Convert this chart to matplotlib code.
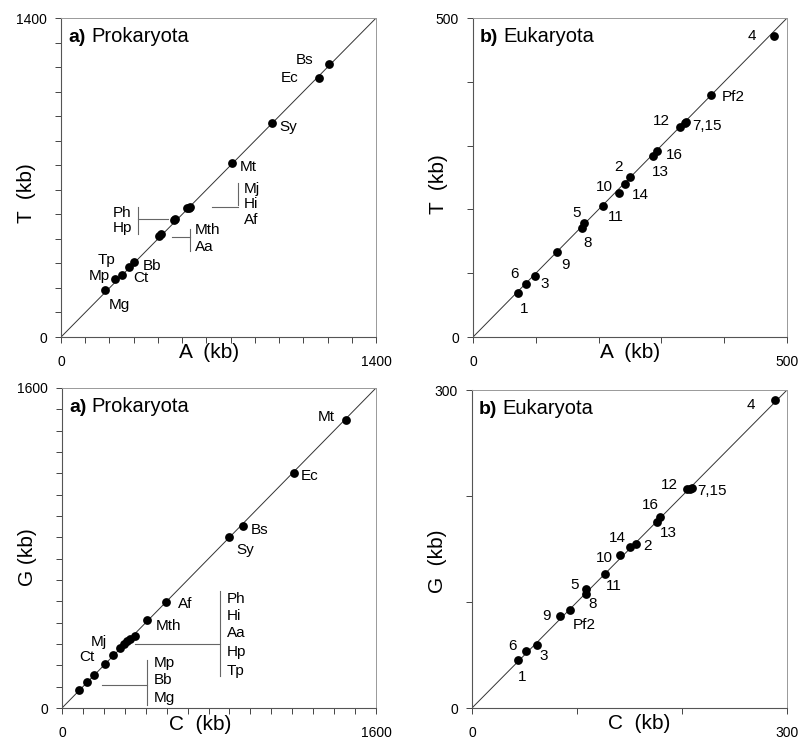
import numpy as np
import matplotlib.pyplot as plt

plt.rcParams['font.family'] = ['Liberation Sans', 'DejaVu Sans']

# a) Prokaryota: A vs T (kb)
pro_at_names = ['Mg', 'Mp', 'Tp', 'Ct', 'Bb', 'Aa', 'Mth', 'Ph', 'Hp',
                'Af', 'Hi', 'Mj', 'Mt', 'Sy', 'Ec', 'Bs']
pro_a = [197, 240, 270, 304, 326, 437, 443, 501, 505, 559, 567, 574, 759, 937, 1148, 1189]
pro_t = [205, 254, 274, 308, 330, 442, 450, 515, 519, 565, 567, 570, 762, 938, 1139, 1198]

# a) Prokaryota: C vs G (kb)
pro_cg_names = ['Mg', 'Bb', 'Mp', 'Ct', 'Mj', 'Tp', 'Hp', 'Hi', 'Ph', 'Aa',
                'Mth', 'Af', 'Sy', 'Bs', 'Ec', 'Mt']
pro_c = [87, 127, 161, 217, 258, 297, 318, 331, 348, 374, 435, 532, 849, 922, 1180, 1449]
pro_g = [88, 130, 163, 218, 267, 300, 322, 333, 347, 358, 438, 528, 853, 912, 1175, 1442]

# b) Eukaryota (chromosomes 1-16 and Pf2)
euk_names = ['1', '2', '3', '4', '5', '6', '7', '8', '9', '10', '11', '12',
             '13', '14', '15', '16', 'Pf2']
euk_a = [71.1, 250.5, 98.7, 479.9, 177.3, 83.9, 337.5, 174.1, 133.2, 233.0,
         207.0, 329.1, 286.1, 242.6, 339.5, 293.0, 379.6]
euk_t = [69.6, 251.3, 95.3, 471.2, 178.5, 82.7, 335.5, 170.2, 132.5, 226.2,
         205.8, 329.8, 283.8, 239.3, 336.8, 292.1, 379.6]
euk_c = [43.8, 156.5, 61.6, 288.6, 108.6, 51.4, 208.0, 108.6, 84.1, 141.3,
         126.7, 204.8, 175.9, 150.5, 209.2, 179.4, 93.0]
euk_g = [45.5, 154.6, 59.7, 290.6, 112.5, 53.4, 207.0, 107.7, 86.4, 144.2,
         126.3, 206.4, 175.9, 152.0, 207.6, 180.6, 92.7]

# label placement (data coords)
lab_pro_at = {'Bs': (1081, 1214), 'Ec': (1016, 1139), 'Sy': (1011, 924),
              'Mt': (833, 748), 'Tp': (203, 340), 'Mp': (170, 270),
              'Bb': (403, 312), 'Ct': (354, 258), 'Mg': (260, 139)}
grp_pro_at = [
    dict(names=['Mj', 'Hi', 'Af'], tx=812, ty=[650, 585, 515], ha='left',
         vx=785, vy=(677, 579), hx=(670, 785), hy=569),
    dict(names=['Ph', 'Hp'], tx=314, ty=[545, 479], ha='right',
         vx=341, vy=(572, 454), hx=(341, 477), hy=517),
    dict(names=['Mth', 'Aa'], tx=596, ty=[469, 393], ha='left',
         vx=571, vy=(476, 378), hx=(492, 571), hy=440),
]
lab_pro_cg = {'Mt': (1347, 1455), 'Ec': (1262, 1162), 'Bs': (1007, 888),
              'Sy': (934, 792), 'Af': (628, 520), 'Mth': (543, 408),
              'Mj': (187, 328), 'Ct': (127, 255)}
grp_pro_cg = [
    dict(names=['Mp', 'Bb', 'Mg'], tx=467, ty=[225, 142, 50], ha='left',
         vx=433, vy=(242, 17), hx=(204, 433), hy=117),
    dict(names=['Ph', 'Hi', 'Aa', 'Hp', 'Tp'], tx=841, ty=[545, 458, 375, 278, 183],
         ha='left', vx=807, vy=(583, 162), hx=(374, 807), hy=322),
]
lab_euk_at = {'4': (444, 472), 'Pf2': (414, 376), '12': (300, 339), '16': (320.6, 286),
              '13': (298, 259), '2': (232, 267), '10': (209, 235.6), '14': (266, 222.5),
              '5': (165.6, 194.8), '11': (228, 187.4), '8': (182.6, 147.6),
              '9': (147, 113.6), '6': (66.3, 98.4), '3': (113.6, 83.8), '1': (80.7, 43.5)}
lab_euk_at_left = {'7,15': (349, 331)}
lab_euk_cg = {'4': (265.7, 285.9), '12': (188.3, 210.5), '16': (169.8, 191.6),
              '13': (187.3, 164.9), '14': (138.7, 160.2), '2': (166.7, 153.3),
              '10': (126.0, 141.4), '11': (134.9, 115.3), '5': (97.5, 116.2),
              '8': (115.2, 98.0), '9': (70.5, 87.0), 'Pf2': (107.0, 78.5),
              '6': (39.0, 58.1), '3': (68.3, 48.7), '1': (47.6, 29.2)}
lab_euk_cg_left = {'7,15': (214.3, 205.1)}

fig = plt.figure(figsize=(8.02, 7.43), dpi=100)


def panel(rect, x, y, vmax, nt, letter, title, xl, yl, xlpos, ylpos,
          labels, left_labels={}, groups=[]):
    ax = fig.add_axes(rect)
    ax.set_xlim(0, vmax)
    ax.set_ylim(0, vmax)
    ax.plot([0, vmax], [0, vmax], color='#333333', lw=0.7, zorder=1)
    ax.scatter(x, y, s=40, color='black', zorder=3, linewidths=0)
    ticks = np.linspace(0, vmax, nt + 1)
    tl = [''] * len(ticks)
    tl[0], tl[-1] = '0', str(vmax)
    ax.set_xticks(ticks, tl)
    ax.set_yticks(ticks, tl)
    ax.tick_params(axis='x', direction='out', length=4, width=0.7, pad=9,
                   labelsize=10, colors='#444444', labelcolor='black')
    ax.tick_params(axis='y', direction='out', length=4, width=0.7, pad=6,
                   labelsize=10, colors='#444444', labelcolor='black')
    for s in ['top', 'right']:
        ax.spines[s].set_color('#999999')
        ax.spines[s].set_linewidth(0.7)
    for s in ['left', 'bottom']:
        ax.spines[s].set_color('#555555')
        ax.spines[s].set_linewidth(0.8)
    t1 = ax.text(0.022, 0.94, letter, transform=ax.transAxes, fontsize=14,
                 fontweight='bold', va='center', ha='left')
    ax.annotate(title, xy=(1, 0), xycoords=t1, xytext=(4, 0),
                textcoords='offset points', fontsize=14.5, va='bottom', ha='left')
    ax.text(xlpos, -0.05, xl, transform=ax.transAxes, fontsize=15,
            ha='center', va='center')
    ax.text(-0.11, ylpos, yl, transform=ax.transAxes, fontsize=15,
            ha='center', va='center', rotation=90)
    for name, (tx, ty) in labels.items():
        ax.text(tx, ty, name, fontsize=11, ha='center', va='center')
    for name, (tx, ty) in left_labels.items():
        ax.text(tx, ty, name, fontsize=11, ha='left', va='center')
    for g in groups:
        for name, ty in zip(g['names'], g['ty']):
            ax.text(g['tx'], ty, name, fontsize=11, ha=g['ha'], va='center')
        ax.plot([g['vx'], g['vx']], g['vy'], color='#666666', lw=0.8)
        ax.plot(g['hx'], [g['hy'], g['hy']], color='#666666', lw=0.8)
    return ax


panel([0.0761, 0.5464, 0.3928, 0.4293], pro_a, pro_t, 1400, 13, 'a)', 'Prokaryota',
      'A  (kb)', 'T  (kb)', 0.47, 0.45, lab_pro_at, groups=grp_pro_at)
panel([0.5898, 0.5464, 0.3915, 0.4293], euk_a, euk_t, 500, 5, 'b)', 'Eukaryota',
      'A  (kb)', 'T  (kb)', 0.50, 0.48, lab_euk_at, lab_euk_at_left)
panel([0.0773, 0.0471, 0.3915, 0.4307], pro_c, pro_g, 1600, 15, 'a)', 'Prokaryota',
      'C  (kb)', 'G (kb)', 0.44, 0.47, lab_pro_cg, groups=grp_pro_cg)
panel([0.5885, 0.0471, 0.3928, 0.428], euk_c, euk_g, 300, 3, 'b)', 'Eukaryota',
      'C  (kb)', 'G  (kb)', 0.53, 0.46, lab_euk_cg, lab_euk_cg_left)

fig.savefig('out.png', dpi=100)
